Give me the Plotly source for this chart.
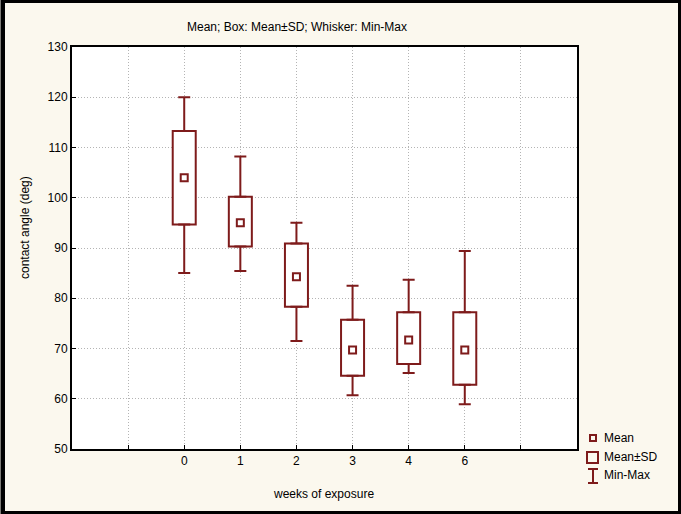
import plotly.graph_objects as go

# ---- data ----
weeks = ["0", "1", "2", "3", "4", "6"]
mean_vals = [104.0, 95.0, 84.3, 69.7, 71.7, 69.7]
sd_lo = [94.7, 90.3, 78.3, 64.6, 66.9, 62.8]     # mean - SD
sd_hi = [113.3, 100.2, 90.9, 75.7, 77.2, 77.2]   # mean + SD
min_vals = [85.0, 85.4, 71.5, 60.7, 65.1, 58.9]
max_vals = [120.0, 108.2, 95.0, 82.5, 83.7, 89.4]
y_ticks = [50, 60, 70, 80, 90, 100, 110, 120, 130]

RED = "#7e1b1b"
BG = "#fbf8ee"
FONT = "Liberation Sans, Arial, sans-serif"

pos = [i + 2 for i in range(len(weeks))]
tick_pos = list(range(1, len(weeks) + 3))
tick_text = [""] + weeks + [""]

fig = go.Figure()

# boxes: mean +- SD
fig.add_trace(go.Bar(
    x=pos, y=[h - l for h, l in zip(sd_hi, sd_lo)], base=sd_lo,
    width=0.41, marker=dict(color="white", line=dict(color=RED, width=2)),
    showlegend=False, hoverinfo="skip"))

# upper whiskers (from box top to max)
fig.add_trace(go.Scatter(
    x=pos, y=sd_hi, mode="markers", marker=dict(size=1, opacity=0),
    error_y=dict(type="data", symmetric=False,
                 array=[m - h for m, h in zip(max_vals, sd_hi)],
                 arrayminus=[0] * len(pos), color=RED, thickness=2, width=6),
    showlegend=False, hoverinfo="skip"))
# lower whiskers (from box bottom to min)
fig.add_trace(go.Scatter(
    x=pos, y=sd_lo, mode="markers", marker=dict(size=1, opacity=0),
    error_y=dict(type="data", symmetric=False,
                 array=[0] * len(pos),
                 arrayminus=[l - m for l, m in zip(sd_lo, min_vals)],
                 color=RED, thickness=2, width=6),
    showlegend=False, hoverinfo="skip"))

# mean markers
fig.add_trace(go.Scatter(
    x=pos, y=mean_vals, mode="markers",
    marker=dict(symbol="square-open", size=7, color=RED, line=dict(color=RED, width=2)),
    showlegend=False))

L, R, T, B = 72, 104, 47, 65
W, H = 681, 514
pw, ph = W - L - R, H - T - B

def px_x(x):
    return (x - L) / pw

def px_y(y):
    return (H - B - y) / ph

shapes = [
    # outer frame of the image
    dict(type="rect", xref="paper", yref="paper",
         x0=px_x(2), x1=px_x(W - 1.5), y0=px_y(H - 1.5), y1=px_y(1.5),
         line=dict(color="black", width=3)),
    dict(type="line", xref="paper", yref="paper",
         x0=px_x(3), x1=px_x(3), y0=px_y(H - 1.5), y1=px_y(1.5),
         line=dict(color="black", width=4)),
    # legend glyphs
    dict(type="rect", xref="paper", yref="paper",
         x0=px_x(590), x1=px_x(596), y0=px_y(441), y1=px_y(435),
         line=dict(color=RED, width=2)),
    dict(type="rect", xref="paper", yref="paper",
         x0=px_x(587), x1=px_x(598), y0=px_y(463), y1=px_y(452),
         line=dict(color=RED, width=2)),
    dict(type="line", xref="paper", yref="paper",
         x0=px_x(593), x1=px_x(593), y0=px_y(483), y1=px_y(469),
         line=dict(color=RED, width=2)),
    dict(type="line", xref="paper", yref="paper",
         x0=px_x(588), x1=px_x(598), y0=px_y(469), y1=px_y(469),
         line=dict(color=RED, width=2)),
    dict(type="line", xref="paper", yref="paper",
         x0=px_x(588), x1=px_x(598), y0=px_y(483), y1=px_y(483),
         line=dict(color=RED, width=2)),
]

annotations = [
    dict(text="Mean; Box: Mean±SD; Whisker: Min-Max", xref="paper", yref="paper",
         x=px_x(297), y=px_y(27), showarrow=False, xanchor="center", yanchor="middle",
         font=dict(size=12, color="black", family=FONT)),
    dict(text="weeks of exposure", xref="paper", yref="paper",
         x=px_x(323), y=px_y(494), showarrow=False, xanchor="center", yanchor="middle",
         font=dict(size=12, color="black", family=FONT)),
    dict(text="contact angle (deg)", xref="paper", yref="paper", textangle=-90,
         x=px_x(25), y=px_y(228), showarrow=False, xanchor="center", yanchor="middle",
         font=dict(size=12, color="black", family=FONT)),
]
for label, yy in [("Mean", 438), ("Mean±SD", 457), ("Min-Max", 475)]:
    annotations.append(dict(text=label, xref="paper", yref="paper",
                            x=px_x(602), y=px_y(yy), showarrow=False,
                            xanchor="left", yanchor="middle",
                            font=dict(size=12, color="black", family=FONT)))

fig.update_layout(
    width=W, height=H,
    margin=dict(l=L, r=R, t=T, b=B, pad=0),
    paper_bgcolor=BG, plot_bgcolor="white",
    font=dict(family=FONT, size=12, color="black"),
    shapes=shapes, annotations=annotations,
    barmode="overlay", showlegend=False,
    xaxis=dict(range=[0, len(weeks) + 3], tickmode="array", tickvals=tick_pos,
               ticktext=tick_text, showgrid=True, gridcolor="#b4b4b4", griddash="1px,2px",
               gridwidth=1, showline=True, linecolor="black", linewidth=2, mirror=True,
               ticks="inside", ticklen=4, tickcolor="black", zeroline=False,
               tickfont=dict(size=12, family=FONT), fixedrange=True),
    yaxis=dict(range=[50, 130], tickmode="array", tickvals=y_ticks,
               showgrid=True, gridcolor="#b4b4b4", griddash="1px,2px", gridwidth=1,
               showline=True, linecolor="black", linewidth=2, mirror=True,
               ticks="inside", ticklen=4, tickcolor="black", zeroline=False,
               tickfont=dict(size=12, family=FONT), fixedrange=True),
)

fig.write_html(
    "out.html",
    config={"displayModeBar": False},
    post_script="document.body.style.margin='0';document.body.style.overflow='hidden';",
)
